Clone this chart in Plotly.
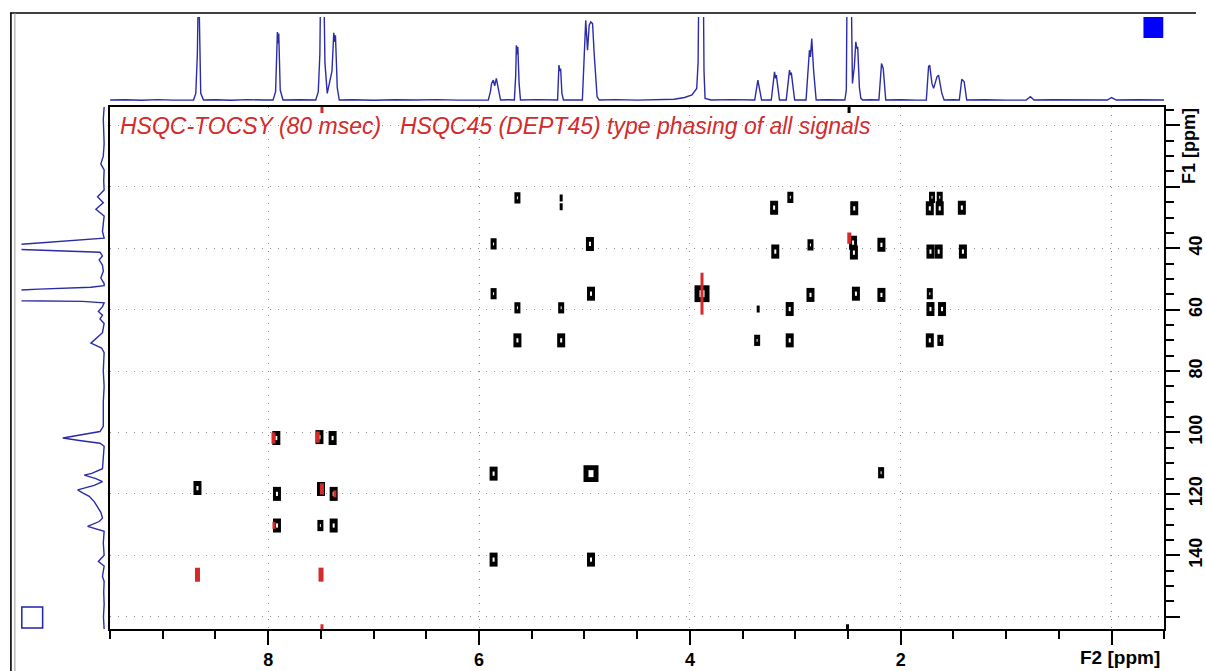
import plotly.graph_objects as go

W, H = 1206, 671

# ---------------- 1D projection along F2 (top trace): ppm / relative intensity ----------------
f2_ppm = [9.50, 9.35, 9.20, 9.05, 8.90, 8.78,
          8.708, 8.687, 8.672, 8.667, 8.660, 8.653, 8.648, 8.640, 8.614,
          8.50, 8.35, 8.20, 8.05,
          7.954, 7.930, 7.913, 7.906, 7.900, 7.886, 7.860,
          7.70, 7.60,
          7.549, 7.525, 7.510, 7.506, 7.487, 7.468, 7.462, 7.440,
          7.395, 7.378, 7.370, 7.362, 7.345, 7.326,
          7.20, 7.00, 6.80, 6.60, 6.40, 6.20, 6.00,
          5.912, 5.892, 5.881, 5.865, 5.852, 5.836, 5.820, 5.796,
          5.72,
          5.665, 5.652, 5.646, 5.639, 5.632, 5.620, 5.607,
          5.45, 5.33,
          5.255, 5.242, 5.234, 5.226, 5.214, 5.199,
          5.10,
          5.020, 5.005, 4.988, 4.971, 4.955, 4.940, 4.923, 4.908, 4.880, 4.860,
          4.70, 4.50, 4.30, 4.15, 4.05, 3.98, 3.935,
          3.922, 3.918, 3.894, 3.870, 3.866, 3.856, 3.80,
          3.60, 3.45,
          3.385, 3.355, 3.340, 3.320,
          3.228, 3.197, 3.188, 3.180, 3.150,
          3.086, 3.055, 3.046, 3.038, 3.006,
          2.898, 2.866, 2.856, 2.844, 2.826, 2.802,
          2.70, 2.58,
          2.530, 2.516, 2.511, 2.488, 2.466, 2.458, 2.440, 2.426, 2.416, 2.408, 2.392, 2.378, 2.362,
          2.28,
          2.207, 2.182, 2.166, 2.142,
          2.00, 1.85,
          1.757, 1.736, 1.725, 1.704, 1.688, 1.656, 1.641, 1.610, 1.588,
          1.50,
          1.444, 1.421, 1.398, 1.374,
          1.20, 1.00, 0.81, 0.77, 0.735, 0.55, 0.30, 0.04, 0.00, -0.045, -0.25, -0.50]
f2_int = [0.000, 0.004, -0.003, 0.005, -0.002, 0.004,
          0.0, 0.08, 0.55, 1.0, 1.5, 1.0, 0.55, 0.08, 0.0,
          0.004, -0.003, 0.005, 0.0,
          0.0, 0.10, 0.82, 0.68, 0.80, 0.12, 0.0,
          0.004, 0.0,
          0.0, 0.10, 0.55, 1.0, 1.7, 1.0, 0.45, 0.08,
          0.35, 0.81, 0.70, 0.78, 0.15, 0.0,
          0.004, -0.003, 0.004, 0.0, 0.005, -0.002, 0.004,
          0.0, 0.10, 0.20, 0.24, 0.17, 0.26, 0.15, 0.0,
          0.004,
          0.0, 0.30, 0.66, 0.55, 0.64, 0.20, 0.0,
          0.005, -0.002,
          0.0, 0.42, 0.35, 0.38, 0.08, 0.0,
          0.004,
          0.0, 0.45, 0.96, 0.60, 0.90, 0.94, 0.92, 0.56, 0.04, 0.0,
          0.005, -0.002, 0.006, 0.01, 0.03, 0.06, 0.14,
          0.45, 1.0, 1.8, 1.0, 0.35, 0.02, 0.0,
          0.005, -0.002,
          0.0, 0.24, 0.12, 0.0,
          0.0, 0.34, 0.26, 0.30, 0.0,
          0.0, 0.36, 0.30, 0.33, 0.0,
          0.0, 0.60, 0.52, 0.74, 0.35, 0.0,
          0.004, 0.0,
          0.0, 0.12, 1.0, 1.8, 1.0, 0.20, 0.40, 0.70, 0.62, 0.64, 0.15, 0.02, 0.0,
          0.004,
          0.0, 0.44, 0.38, 0.0,
          0.004, -0.002,
          0.0, 0.40, 0.42, 0.20, 0.14, 0.28, 0.30, 0.08, 0.0,
          0.004,
          0.0, 0.25, 0.22, 0.0,
          0.004, -0.002, 0.0, 0.04, 0.0, 0.004, -0.002, 0.0, 0.03, 0.0, 0.004, 0.0]

# ---------------- 1D projection along F1 (left trace): ppm / relative intensity ----------------
f1_ppm = [-6, -2, 2, 6, 10, 12.5, 14.5, 18, 21, 23.2, 25.2, 27.3, 29.5, 32, 34.5, 36.7,
          37.6, 38.7, 39.5, 40.3, 40.9, 41.3, 42.5, 43.8, 45.5, 47.5, 49.7, 51.5,
          52.2, 52.7, 53.3, 53.9, 55.5, 57.1, 57.3, 57.8,
          59.0, 60.6, 61.8, 63.0, 64.5, 67.5, 69.5, 70.9, 72.5, 74,
          80, 85, 90, 95, 98, 99.7, 100.8, 101.8, 102.6, 103.5, 104.5,
          108, 111.8, 113.3, 113.9, 115.0, 116.0, 117.2, 118.7, 119.8, 120.8, 122.5, 124.1, 126, 127.9,
          129.0, 130.6, 131.5, 132.2,
          136, 140, 142, 143.5, 146.9, 148.5, 152, 156, 160, 164]
f1_int = [0.0, 0.01, 0.005, 0.0, 0.01, 0.04, 0.0, 0.005, 0.0, 0.08, 0.01, 0.10, 0.0, 0.01, 0.02, 0.0,
          0.49, 1.0, 2.0, 1.0, 0.49, 0.05, 0.02, 0.06, 0.02, 0.01, 0.04, 0.0,
          0.0, 0.16, 0.79, 1.0, 2.5, 1.0, 0.26, 0.0,
          0.02, 0.07, 0.02, 0.05, 0.0, 0.02, 0.10, 0.16, 0.03, 0.0,
          0.01, 0.0, 0.01, 0.005, 0.01, 0.05, 0.30, 0.50, 0.30, 0.05, 0.0,
          0.01, 0.02, 0.15, 0.24, 0.10, 0.02, 0.12, 0.32, 0.25, 0.18, 0.12, 0.08, 0.04, 0.02,
          0.06, 0.20, 0.08, 0.0,
          0.01, 0.0, 0.07, 0.0, 0.02, 0.0, 0.005, 0.0, 0.008, 0.0]

# ---------------- 2D cross peaks: F2 (1H) / F1 (13C) ppm, contour level ----------------
pos_f2 = [5.636, 5.221, 5.221, 3.047, 3.201, 2.441, 1.703, 1.630, 1.724, 1.630, 1.420,
          5.862, 4.948, 3.190, 2.856, 2.452, 2.444, 2.183, 1.718, 1.640, 1.410,
          5.862, 5.636, 5.221, 4.938, 3.885, 3.352, 3.053, 2.856, 2.425, 2.183, 1.724, 1.718, 1.608,
          5.636, 5.221, 3.362, 3.053, 1.724, 1.624,
          7.923, 7.514, 7.389, 8.671, 7.917, 7.499, 7.379, 7.917, 7.505, 7.379,
          5.862, 4.938, 2.186, 5.862, 4.938, 2.490, 2.505]
pos_f1 = [23.6, 23.6, 26.5, 23.4, 26.8, 27.0, 23.4, 23.4, 27.0, 27.0, 26.8,
          38.6, 38.6, 41.1, 38.9, 38.2, 41.4, 38.9, 41.1, 41.1, 41.1,
          54.8, 59.4, 59.4, 54.8, 54.8, 59.8, 59.8, 55.2, 54.8, 55.2, 54.8, 59.8, 59.8,
          70.0, 70.0, 70.0, 70.0, 70.0, 70.0,
          101.8, 101.5, 101.8, 118.1, 120.0, 118.4, 120.0, 130.3, 130.3, 130.3,
          113.4, 113.4, 113.1, 141.4, 141.4, -5.2, 163.6]
pos_level = [2, 1, 1, 2, 3, 3, 2, 2, 3, 3, 3,
             2, 3, 3, 2, 3, 3, 3, 3, 3, 3,
             2, 2, 2, 3, 5, 1, 3, 3, 3, 3, 2, 3, 3,
             3, 3, 2, 3, 3, 2,
             3, 3, 3, 3, 3, 3, 3, 3, 2, 3,
             3, 5, 2, 3, 3, 1, 1]

neg_f2 = [2.488, 3.885, 7.950, 7.530, 7.490, 7.368, 7.945, 8.671, 7.499, 7.490, 7.490]
neg_f1 = [36.7, 54.8, 101.8, 101.5, 118.4, 120.0, 130.3, 146.3, 146.3, -5.2, 163.6]
neg_level = [2, 5, 2, 2, 2, 1, 1, 3, 3, 1, 1]

# ---------------- axes ----------------
x_ticks = [8, 6, 4, 2, 0]
x_tick_text = ["8", "6", "4", "2", ""]
x_minor = [9.5, 9.0, 8.5, 7.5, 7.0, 6.5, 5.5, 5.0, 4.5, 3.5, 3.0, 2.5, 1.5, 1.0, 0.5, -0.5]
y_ticks = [0, 20, 40, 60, 80, 100, 120, 140, 160]
y_tick_text = ["", "", "40", "60", "80", "100", "120", "140", ""]
y_minor = [v for v in range(-5, 165, 5) if v % 20 != 0]

F2_RANGE = [9.5, -0.5]
F1_RANGE = [164, -6]

BLUE = "#2b2ba8"
RED = "#d42a2a"
TICK_FONT = dict(family="Liberation Sans, Arial, sans-serif", size=18, color="black", weight="bold")


def px(v):
    return v / W


def py(v):
    return 1 - v / H


# contour blob geometry per level: (width px, height px) of the outer blob and its inner hole
blob_w = {1: 3, 2: 6, 3: 8, 4: 10, 5: 15}
blob_h = {1: 5, 2: 8, 3: 10, 4: 12, 5: 12}
hole_w = {1: 0, 2: 1, 3: 2, 4: 3, 5: 5}
hole_h = {1: 0, 2: 2, 3: 3, 4: 4, 5: 5}
neg_w = {1: 3, 2: 4, 3: 5, 4: 5, 5: 3}
neg_h = {1: 5, 2: 8, 3: 10, 4: 14, 5: 30}

fig = go.Figure()

# top projection
fig.add_trace(go.Scatter(x=f2_ppm, y=f2_int, mode="lines", xaxis="x2", yaxis="y2",
                         line=dict(color=BLUE, width=1.4), hoverinfo="skip"))
# left projection
fig.add_trace(go.Scatter(x=f1_int, y=f1_ppm, mode="lines", xaxis="x3", yaxis="y3",
                         line=dict(color=BLUE, width=1.4), hoverinfo="skip"))

# positive contours (black blobs drawn as thick vertical strokes)
fig.add_trace(go.Scatter(
    x=pos_f2, y=pos_f1, mode="markers", xaxis="x", yaxis="y",
    marker=dict(symbol="line-ns", size=[blob_h[lv] for lv in pos_level], color="black", opacity=1,
                line=dict(color="black", width=[blob_w[lv] for lv in pos_level])),
    hoverinfo="skip"))
# inner holes of the positive contours
hole_idx = [i for i, lv in enumerate(pos_level) if hole_w[lv] > 0]
fig.add_trace(go.Scatter(
    x=[pos_f2[i] for i in hole_idx], y=[pos_f1[i] for i in hole_idx], mode="markers",
    xaxis="x", yaxis="y",
    marker=dict(symbol="line-ns", size=[hole_h[pos_level[i]] for i in hole_idx], color="white",
                opacity=1,
                line=dict(color="white", width=[hole_w[pos_level[i]] for i in hole_idx])),
    hoverinfo="skip"))

# negative contours (red)
fig.add_trace(go.Scatter(
    x=neg_f2, y=neg_f1, mode="markers", xaxis="x", yaxis="y",
    marker=dict(symbol="line-ns", size=[neg_h[lv] for lv in neg_level], color=RED, opacity=1,
                line=dict(color=RED, width=[neg_w[lv] for lv in neg_level])),
    hoverinfo="skip"))

axis_common = dict(showline=True, mirror=True, linecolor="black", linewidth=1.5,
                   ticks="outside", ticklen=14, tickwidth=1.5, tickcolor="black",
                   showgrid=True, gridcolor="#8c8c8c", gridwidth=1, griddash="1px,7px",
                   zeroline=False, tickfont=TICK_FONT, tickmode="array")

fig.update_layout(
    width=W, height=H, margin=dict(l=0, r=0, t=0, b=0),
    paper_bgcolor="white", plot_bgcolor="white", showlegend=False,
    xaxis=dict(domain=[px(111), px(1174)], range=F2_RANGE, anchor="y",
               tickvals=x_ticks, ticktext=x_tick_text,
               minor=dict(tickmode="array", tickvals=x_minor, ticks="outside", ticklen=8,
                          tickwidth=1.5, tickcolor="black", showgrid=False),
               **axis_common),
    yaxis=dict(domain=[py(629), py(107)], range=F1_RANGE, anchor="x", side="right",
               tickvals=y_ticks, ticktext=y_tick_text, tickangle=-90,
               minor=dict(tickmode="array", tickvals=y_minor, ticks="outside", ticklen=8,
                          tickwidth=1.5, tickcolor="black", showgrid=False),
               **axis_common),
    xaxis2=dict(domain=[px(111), px(1174)], range=F2_RANGE, anchor="y2", visible=False),
    yaxis2=dict(domain=[py(102), py(17)], range=[-0.024, 1.0], anchor="x2", visible=False),
    xaxis3=dict(domain=[px(21.7), px(107)], range=[1.0, -0.024], anchor="y3", visible=False),
    yaxis3=dict(domain=[py(629), py(107)], range=F1_RANGE, anchor="x3", visible=False),
)

# window frame and colour boxes
fig.add_shape(type="line", xref="paper", yref="paper", x0=px(10), x1=1, y0=py(13), y1=py(13),
              line=dict(color="black", width=1.6))
fig.add_shape(type="line", xref="paper", yref="paper", x0=px(11), x1=px(11), y0=py(13), y1=0,
              line=dict(color="black", width=1.6))
fig.add_shape(type="line", xref="paper", yref="paper", x0=px(15), x1=px(15), y0=py(13), y1=0,
              line=dict(color="#9a9a9a", width=1))
fig.add_shape(type="rect", xref="paper", yref="paper", x0=px(1153), x1=px(1173), y0=py(38), y1=py(17),
              line=dict(color="#0000ff", width=0), fillcolor="#0000ff")
fig.add_shape(type="rect", xref="paper", yref="paper", x0=px(22), x1=px(43), y0=py(628), y1=py(607),
              line=dict(color="#2020b0", width=1.5), fillcolor="rgba(0,0,0,0)")

label_font = dict(family="Liberation Sans, Arial, sans-serif", size=19, color="black", weight="bold")
fig.add_annotation(text="F2 [ppm]", xref="paper", yref="paper", x=px(1129), y=py(657),
                   xanchor="center", yanchor="middle", showarrow=False, font=label_font)
fig.add_annotation(text="F1 [ppm]", xref="paper", yref="paper", x=px(1199), y=py(146),
                   xanchor="center", yanchor="middle", textangle=-90, showarrow=False,
                   font=dict(family="Liberation Sans, Arial, sans-serif", size=18, color="black",
                             weight="bold"))

title_font = dict(family="Liberation Sans, Arial, sans-serif", size=23, color=RED, style="italic")
fig.add_annotation(text="HSQC-TOCSY (80 msec)", xref="paper", yref="paper", x=px(119), y=py(126),
                   xanchor="left", yanchor="middle", showarrow=False, font=title_font)
fig.add_annotation(text="HSQC45 (DEPT45) type phasing of all signals", xref="paper", yref="paper",
                   x=px(401), y=py(126), xanchor="left", yanchor="middle", showarrow=False,
                   font=title_font)

fig.write_html("out.html")
